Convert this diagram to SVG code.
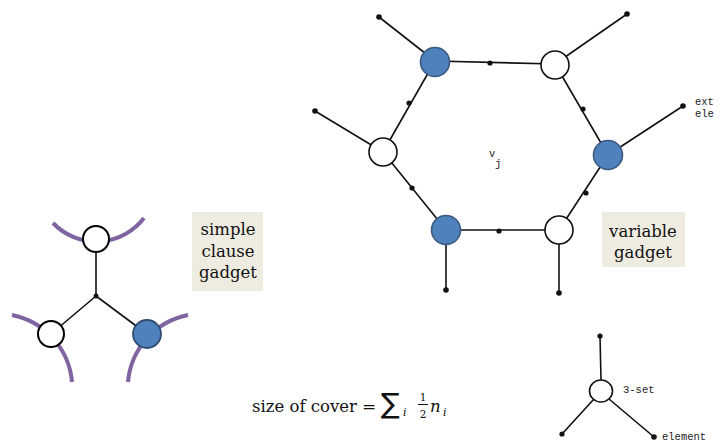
<svg xmlns="http://www.w3.org/2000/svg" width="721" height="443" viewBox="0 0 721 443">
<style>
.e{stroke:#111;stroke-width:1.6;fill:none;stroke-linecap:round}
.dot{fill:#111}
.w{fill:#fff;stroke:#111;stroke-width:1.6}
.b{fill:#4F81BD;stroke:#3A5A80;stroke-width:1.6}
.cw{fill:#fff;stroke:#000;stroke-width:2}
.cb{fill:#4F81BD;stroke:#2F4B70;stroke-width:1.8}
.arc{stroke:#8064A2;stroke-width:4;fill:none}
.box{fill:#EEECE1}
.lbl{font-family:"DejaVu Serif","Liberation Serif",serif;font-size:16.5px;fill:#111;text-anchor:middle}
.mono{font-family:"Liberation Mono","DejaVu Sans Mono",monospace;font-size:10.5px;fill:#222}
.m{font-family:"DejaVu Serif","Liberation Serif",serif;fill:#111}
</style>
<rect width="721" height="443" fill="#fff"/>

<!-- simple clause gadget -->
<g id="clause-arcs">
<path class="arc" d="M53,223 A60,60 0 0 0 144,218"/>
<path class="arc" d="M12,315 A75,75 0 0 1 72,382"/>
<path class="arc" d="M188,315 A75,75 0 0 0 128,382"/>
</g>
<g id="clause-connectors">
<line class="e" x1="96" y1="252" x2="96" y2="296"/>
<line class="e" x1="96" y1="296" x2="51" y2="334"/>
<line class="e" x1="96" y1="296" x2="147" y2="334"/>
<circle class="dot" cx="96" cy="296" r="2.5"/>
</g>
<g id="c-top"><circle class="cw" cx="96" cy="239" r="13"/></g>
<g id="c-left"><circle class="cw" cx="51" cy="334" r="13"/></g>
<g id="c-right"><circle class="cb" cx="147" cy="334" r="14"/></g>
<g id="clause-label">
<rect class="box" x="192" y="212" width="71" height="79"/>
<text class="lbl" x="228" y="235">simple</text>
<text class="lbl" x="228" y="257">clause</text>
<text class="lbl" x="228" y="278">gadget</text>
</g>

<!-- variable gadget -->
<g id="connectors">
<line class="e" x1="435" y1="61" x2="555" y2="64"/>
<line class="e" x1="555" y1="64" x2="608" y2="155"/>
<line class="e" x1="608" y1="155" x2="559" y2="230"/>
<line class="e" x1="559" y1="230" x2="446" y2="230"/>
<line class="e" x1="446" y1="230" x2="383" y2="152"/>
<line class="e" x1="383" y1="152" x2="435" y2="61"/>
<line class="e" x1="435" y1="61" x2="379" y2="17"/>
<line class="e" x1="555" y1="64" x2="627" y2="14"/>
<line class="e" x1="383" y1="152" x2="315" y2="111"/>
<line class="e" x1="608" y1="155" x2="683" y2="106"/>
<line class="e" x1="446" y1="230" x2="446" y2="290"/>
<line class="e" x1="559" y1="230" x2="559" y2="293"/>
<circle class="dot" cx="490" cy="63" r="2.6"/>
<circle class="dot" cx="583" cy="109" r="2.6"/>
<circle class="dot" cx="586" cy="193" r="2.6"/>
<circle class="dot" cx="499" cy="231" r="2.6"/>
<circle class="dot" cx="412" cy="188" r="2.6"/>
<circle class="dot" cx="409" cy="103" r="2.6"/>
<circle class="dot" cx="379" cy="17" r="2.8"/>
<circle class="dot" cx="627" cy="14" r="2.8"/>
<circle class="dot" cx="315" cy="111" r="2.8"/>
<circle class="dot" cx="683" cy="106" r="2.8"/>
<circle class="dot" cx="446" cy="290" r="2.8"/>
<circle class="dot" cx="559" cy="293" r="2.8"/>
</g>
<g id="v-tl"><circle class="b" cx="435" cy="62" r="14.5"/></g>
<g id="v-tr"><circle class="w" cx="555" cy="65" r="14"/></g>
<g id="v-l"><circle class="w" cx="383" cy="152" r="14"/></g>
<g id="v-r"><circle class="b" cx="608" cy="155" r="14.5"/></g>
<g id="v-bl"><circle class="b" cx="446" cy="230" r="14.5"/></g>
<g id="v-br"><circle class="w" cx="559" cy="230" r="14"/></g>
<g id="vj-label">
<text class="mono" x="489" y="157" font-size="11">v</text>
<text class="mono" x="495" y="167" font-size="11">j</text>
</g>
<g id="ext-label">
<text class="mono" x="695" y="105" font-size="10">ext</text>
<text class="mono" x="695" y="117" font-size="10">ele</text>
</g>
<g id="variable-label">
<rect class="box" x="602" y="212" width="83" height="55"/>
<text class="lbl" x="643" y="237">variable</text>
<text class="lbl" x="643" y="258">gadget</text>
</g>

<!-- formula -->
<g id="formula">
<text class="m" x="252" y="412" font-size="16.5">size of cover</text>
<text class="m" x="362" y="412" font-size="17">=</text>
<text x="381" y="413" font-size="28" font-family="'DejaVu Sans',sans-serif" fill="#111">∑</text>
<text class="m" x="403" y="416" font-size="11" font-style="italic">i</text>
<text class="m" x="423" y="401" font-size="10.5" text-anchor="middle">1</text>
<line x1="418" y1="404.5" x2="428" y2="404.5" stroke="#111" stroke-width="1"/>
<text class="m" x="423" y="418" font-size="10.5" text-anchor="middle">2</text>
<text class="m" x="430" y="412" font-size="16.5" font-style="italic">n</text>
<text class="m" x="443" y="416" font-size="11" font-style="italic">i</text>
</g>

<!-- 3-set -->
<g id="set-connectors">
<line class="e" x1="600" y1="336" x2="601" y2="380"/>
<line class="e" x1="594" y1="399" x2="562" y2="434"/>
<line class="e" x1="609" y1="399" x2="654" y2="437"/>
<circle class="dot" cx="600" cy="336" r="2.6"/>
<circle class="dot" cx="562" cy="434" r="2.6"/>
<circle class="dot" cx="654" cy="437" r="2.8"/>
</g>
<g id="set-node"><ellipse class="w" cx="601" cy="391" rx="11.5" ry="11"/></g>
<g id="set-labels">
<text class="mono" x="623" y="393">3-set</text>
<text class="mono" x="662" y="440">element</text>
</g>
</svg>
